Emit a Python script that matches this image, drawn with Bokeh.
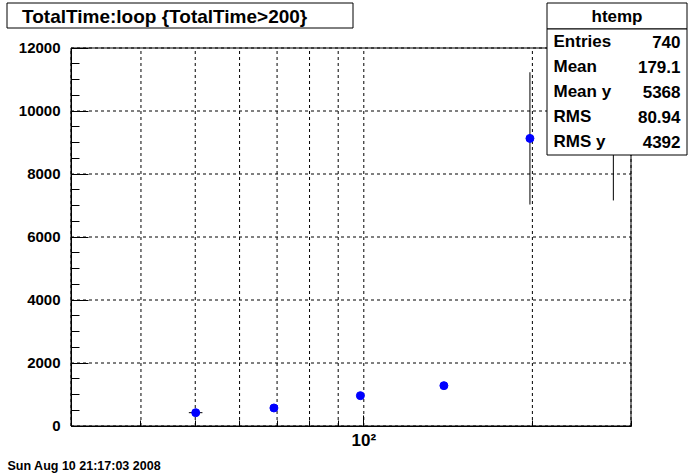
import math
from bokeh.plotting import figure
from bokeh.models import FixedTicker, BoxAnnotation, Label, ColumnDataSource, Range1d
from bokeh.embed import file_html
from bokeh.resources import INLINE

# ---- data ----
title_text = "TotalTime:loop {TotalTime>200}"
date_text = "Sun Aug 10 21:17:03 2008"
stats_title = "htemp"
stats_names = ["Entries", "Mean", "Mean y", "RMS", "RMS y"]
stats_values = ["740", "179.1", "5368", "80.94", "4392"]

loop = [50.1, 69.1, 98.6, 139.0, 198.0, 279.0]
total_time = [423, 572, 963, 1281, 9130, 9600]
time_err = [25, 30, 35, 40, 2100, 2440]
loop_err = [1.4, 0.8, 1.0, 1.2, 1.5, 2.0]

x_limits = (30, 300)
y_limits = (0, 12000)
x_major_ticks = [100]
x_minor_ticks = [30, 40, 50, 60, 70, 80, 90, 200, 300]
x_tick_labels = {100: "10\u00b2"}
y_major_ticks = [0, 2000, 4000, 6000, 8000, 10000, 12000]
y_minor_ticks = [500, 1000, 1500, 2500, 3000, 3500, 4500, 5000, 5500,
                 6500, 7000, 7500, 8500, 9000, 9500, 10500, 11000, 11500]

# ---- layout (pixels) ----
W, H = 700, 473
FL, FR, FT, FB = 70.5, 630.5, 47.5, 425.5   # drawn frame box
FONT = "Liberation Sans"

lx0, lx1 = math.log10(x_limits[0]), math.log10(x_limits[1])
dpp = (lx1 - lx0) / (FR - FL)
x_view = (10 ** (lx0 - FL * dpp), 10 ** (lx1 + (W - FR) * dpp))
upp = (y_limits[1] - y_limits[0]) / (FB - FT)
y_view = (y_limits[0] - (H - FB) * upp, y_limits[1] + FT * upp)

src = ColumnDataSource(dict(
    x=loop, y=total_time,
    ylo=[v - e for v, e in zip(total_time, time_err)],
    yhi=[v + e for v, e in zip(total_time, time_err)],
    xlo=[v - e for v, e in zip(loop, loop_err)],
    xhi=[v + e for v, e in zip(loop, loop_err)],
))

p = figure(width=W, height=H, x_axis_type="log",
           x_range=Range1d(*x_view), y_range=Range1d(*y_view),
           min_border=0, output_backend="svg", toolbar_location=None,
           background_fill_color="white", border_fill_color="white")
p.outline_line_color = None
p.grid.visible = False

xt = FixedTicker(ticks=x_major_ticks, minor_ticks=x_minor_ticks)
yt = FixedTicker(ticks=y_major_ticks, minor_ticks=y_minor_ticks)
xa = p.xaxis[0]
ya = p.yaxis[0]
xa.ticker = xt
ya.ticker = yt
xa.fixed_location = y_limits[0]
ya.fixed_location = x_limits[0]
xa.bounds = x_limits
ya.bounds = y_limits
for ax in (xa, ya):
    ax.axis_line_color = "black"
    ax.major_tick_line_color = "black"
    ax.minor_tick_line_color = "black"
    ax.major_tick_out = 0
    ax.minor_tick_out = 0
    ax.major_label_text_font_size = "1px"
    ax.major_label_text_color = None
    ax.major_label_standoff = 0
xa.major_tick_in = 11
xa.minor_tick_in = 6
ya.major_tick_in = 17
ya.minor_tick_in = 8

# dashed grid lines at the tick positions
gx = x_minor_ticks + x_major_ticks
p.segment(x0=gx, y0=[y_limits[0]] * len(gx), x1=gx, y1=[y_limits[1]] * len(gx),
          line_color="black", line_width=1, line_dash="3 3")
p.segment(x0=[x_limits[0]] * len(y_major_ticks), y0=y_major_ticks,
          x1=[x_limits[1]] * len(y_major_ticks), y1=y_major_ticks,
          line_color="black", line_width=1, line_dash="3 3")

# error bars and markers
p.segment(x0="x", y0="ylo", x1="x", y1="yhi", source=src, line_color="black", line_width=1)
p.segment(x0="xlo", y0="y", x1="xhi", y1="y", source=src, line_color="black", line_width=1)
p.scatter("x", "y", source=src, size=8, fill_color="#0000ff", line_color="#0000ff")

# frame outline
p.add_layout(BoxAnnotation(left=x_limits[0], right=x_limits[1],
                           bottom=y_limits[0], top=y_limits[1],
                           fill_alpha=0, line_color="black", line_width=1, line_alpha=1))


def box(l, r, t, b):
    p.add_layout(BoxAnnotation(left=l, right=r, bottom=H - b, top=H - t,
                               left_units="screen", right_units="screen",
                               bottom_units="screen", top_units="screen",
                               fill_color="white", fill_alpha=1,
                               line_color="black", line_width=1, line_alpha=1,
                               level="overlay"))


def label(x, y, text, size, align="left", x_units="screen", y_units="screen"):
    yy = H - y if y_units == "screen" else y
    p.add_layout(Label(x=x, y=yy, x_units=x_units, y_units=y_units, text=text,
                       text_font=FONT, text_font_style="bold", text_font_size=size,
                       text_color="black", text_align=align, text_baseline="middle",
                       level="overlay"))


# axis tick labels
for t in y_major_ticks:
    label(60, t, str(t), "15px", "right", y_units="data")
for t in x_major_ticks:
    label(t, 440, x_tick_labels[t], "17px", "center", x_units="data")

# title box
box(6.5, 352.5, 2.5, 27.5)
label(21.5, 15.5, title_text, "19px")

# stats box
box(546.5, 686.5, 2.5, 28.5)
box(546.5, 686.5, 28.5, 154.5)
label(616.5, 16, stats_title, "17px", "center")
row_y = [41, 66, 91, 116, 141]
for yy, n, v in zip(row_y, stats_names, stats_values):
    label(553, yy, n, "17px", "left")
    label(680, yy, v, "17px", "right")

# date stamp
label(7, 465, date_text, "12.5px", "left")

open("out.html", "w").write(file_html(p, INLINE))
